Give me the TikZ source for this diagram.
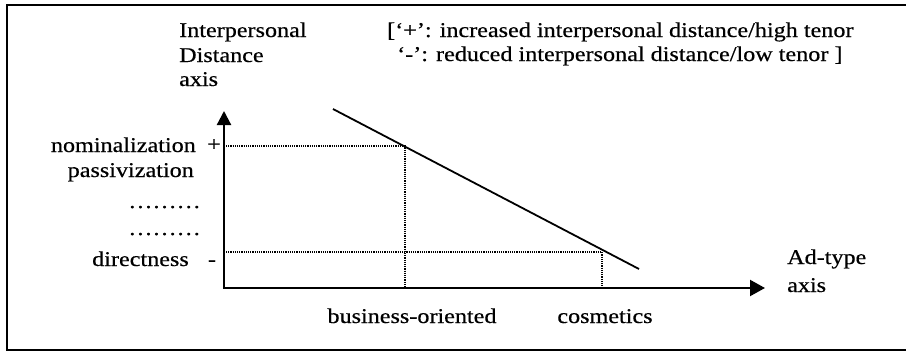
\documentclass[tikz,border=0pt]{standalone}
\usepackage{fontspec}
\setmainfont{Liberation Serif}[FakeStretch=1.15,FakeBold=0.5]
\usetikzlibrary{arrows.meta,calc}
\begin{document}
\begin{tikzpicture}[x=1pt,y=-1pt,
  lbl/.style={inner sep=0pt,font=\fontsize{21}{25}\selectfont},
  axisline/.style={line width=2.2pt},
  guide/.style={line width=1.1pt,dash pattern=on 1.1pt off 1.1pt},
  trend/.style={line width=1.8pt}]
\useasboundingbox (0,0) rectangle (906,351);
% frame
\draw[line width=2.2pt] (906,5) -- (7,5) -- (7,351);
\draw[line width=1.8pt] (7,350) -- (906,350);
% axes
\coordinate (O) at (224,288);
\coordinate (ytip) at (224,111);
\coordinate (xtip) at (765,288);
\draw[axisline,-{Triangle[length=14pt,width=14pt]}] (O) -- (ytip);
\draw[axisline,-{Triangle[length=15pt,width=16pt]}] ($(O)+(-1.1,0)$) -- (xtip);
% guide lines
\coordinate (hp) at (226,146);
\coordinate (pb) at (405,146);
\coordinate (bb) at (405,288);
\coordinate (hm) at (226,252);
\coordinate (pc) at (602,252);
\coordinate (cb) at (602,288);
\draw[guide] (hp) -- (pb) -- (bb);
\draw[guide] (hm) -- (pc) -- (cb);
% trend line
\coordinate (t1) at (333,109);
\coordinate (t2) at (639,269);
\draw[trend] (t1) -- (t2);
% labels
\node[lbl,anchor=base west] (ya1) at (179,37) {Interpersonal};
\node[lbl,anchor=base west] (ya2) at (179,62) {Distance};
\node[lbl,anchor=base west] (ya3) at (179,86) {axis};
\node[lbl,anchor=base west] (k1) at (387,37) {[‘+’: increased interpersonal distance/high tenor};
\node[lbl,anchor=base west] (k2) at (397,61) {‘-’: reduced interpersonal distance/low tenor ]};
\node[lbl,anchor=base east] (nom) at (196,152) {nominalization};
\node[lbl,anchor=base] (plus) at (214,151) {+};
\node[lbl,anchor=base east] (pas) at (194,177) {passivization};
\node[lbl,anchor=base east] (d1) at (201,208) {………};
\node[lbl,anchor=base east] (d2) at (201,235) {………};
\node[lbl,anchor=base east] (dir) at (189,266) {directness};
\node[lbl,anchor=base] (minus) at (212,266) {-};
\node[lbl,anchor=base] (bus) at (412,323) {business-oriented};
\node[lbl,anchor=base] (cos) at (605,323) {cosmetics};
\node[lbl,anchor=base west] (ad1) at (787,264) {Ad-type};
\node[lbl,anchor=base west] (ad2) at (787,292) {axis};
\end{tikzpicture}
\end{document}
